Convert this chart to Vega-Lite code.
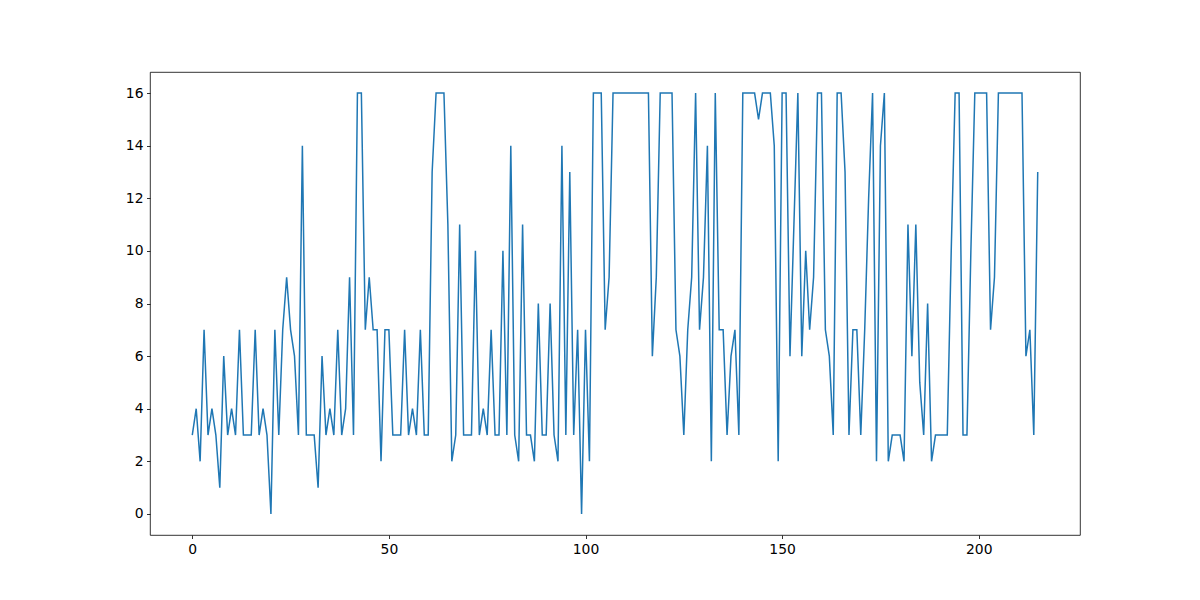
{
  "$schema": "https://vega.github.io/schema/vega-lite/v6.json",
  "width": 930,
  "height": 463,
  "autosize": {"type": "none"},
  "padding": {"left": 150, "top": 72, "right": 120, "bottom": 65},
  "background": "white",
  "config": {
    "view": {"stroke": "black", "strokeWidth": 0.8},
    "axis": {
      "domain": false,
      "grid": false,
      "tickColor": "black",
      "tickSize": 3.5,
      "tickWidth": 0.8,
      "labelFont": "DejaVu Sans",
      "labelFontSize": 13.9,
      "labelColor": "black",
      "labelPadding": 3.5,
      "title": null
    }
  },
  "data": {
    "values": [
      {"x":0,"y":3},{"x":1,"y":4},{"x":2,"y":2},{"x":3,"y":7},{"x":4,"y":3},{"x":5,"y":4},{"x":6,"y":3},{"x":7,"y":1},{"x":8,"y":6},{"x":9,"y":3},
      {"x":10,"y":4},{"x":11,"y":3},{"x":12,"y":7},{"x":13,"y":3},{"x":14,"y":3},{"x":15,"y":3},{"x":16,"y":7},{"x":17,"y":3},{"x":18,"y":4},{"x":19,"y":3},
      {"x":20,"y":0},{"x":21,"y":7},{"x":22,"y":3},{"x":23,"y":7},{"x":24,"y":9},{"x":25,"y":7},{"x":26,"y":6},{"x":27,"y":3},{"x":28,"y":14},{"x":29,"y":3},
      {"x":30,"y":3},{"x":31,"y":3},{"x":32,"y":1},{"x":33,"y":6},{"x":34,"y":3},{"x":35,"y":4},{"x":36,"y":3},{"x":37,"y":7},{"x":38,"y":3},{"x":39,"y":4},
      {"x":40,"y":9},{"x":41,"y":3},{"x":42,"y":16},{"x":43,"y":16},{"x":44,"y":7},{"x":45,"y":9},{"x":46,"y":7},{"x":47,"y":7},{"x":48,"y":2},{"x":49,"y":7},
      {"x":50,"y":7},{"x":51,"y":3},{"x":52,"y":3},{"x":53,"y":3},{"x":54,"y":7},{"x":55,"y":3},{"x":56,"y":4},{"x":57,"y":3},{"x":58,"y":7},{"x":59,"y":3},
      {"x":60,"y":3},{"x":61,"y":13},{"x":62,"y":16},{"x":63,"y":16},{"x":64,"y":16},{"x":65,"y":11},{"x":66,"y":2},{"x":67,"y":3},{"x":68,"y":11},{"x":69,"y":3},
      {"x":70,"y":3},{"x":71,"y":3},{"x":72,"y":10},{"x":73,"y":3},{"x":74,"y":4},{"x":75,"y":3},{"x":76,"y":7},{"x":77,"y":3},{"x":78,"y":3},{"x":79,"y":10},
      {"x":80,"y":3},{"x":81,"y":14},{"x":82,"y":3},{"x":83,"y":2},{"x":84,"y":11},{"x":85,"y":3},{"x":86,"y":3},{"x":87,"y":2},{"x":88,"y":8},{"x":89,"y":3},
      {"x":90,"y":3},{"x":91,"y":8},{"x":92,"y":3},{"x":93,"y":2},{"x":94,"y":14},{"x":95,"y":3},{"x":96,"y":13},{"x":97,"y":3},{"x":98,"y":7},{"x":99,"y":0},
      {"x":100,"y":7},{"x":101,"y":2},{"x":102,"y":16},{"x":103,"y":16},{"x":104,"y":16},{"x":105,"y":7},{"x":106,"y":9},{"x":107,"y":16},{"x":108,"y":16},{"x":109,"y":16},
      {"x":110,"y":16},{"x":111,"y":16},{"x":112,"y":16},{"x":113,"y":16},{"x":114,"y":16},{"x":115,"y":16},{"x":116,"y":16},{"x":117,"y":6},{"x":118,"y":9},{"x":119,"y":16},
      {"x":120,"y":16},{"x":121,"y":16},{"x":122,"y":16},{"x":123,"y":7},{"x":124,"y":6},{"x":125,"y":3},{"x":126,"y":7},{"x":127,"y":9},{"x":128,"y":16},{"x":129,"y":7},
      {"x":130,"y":9},{"x":131,"y":14},{"x":132,"y":2},{"x":133,"y":16},{"x":134,"y":7},{"x":135,"y":7},{"x":136,"y":3},{"x":137,"y":6},{"x":138,"y":7},{"x":139,"y":3},
      {"x":140,"y":16},{"x":141,"y":16},{"x":142,"y":16},{"x":143,"y":16},{"x":144,"y":15},{"x":145,"y":16},{"x":146,"y":16},{"x":147,"y":16},{"x":148,"y":14},{"x":149,"y":2},
      {"x":150,"y":16},{"x":151,"y":16},{"x":152,"y":6},{"x":153,"y":11},{"x":154,"y":16},{"x":155,"y":6},{"x":156,"y":10},{"x":157,"y":7},{"x":158,"y":9},{"x":159,"y":16},
      {"x":160,"y":16},{"x":161,"y":7},{"x":162,"y":6},{"x":163,"y":3},{"x":164,"y":16},{"x":165,"y":16},{"x":166,"y":13},{"x":167,"y":3},{"x":168,"y":7},{"x":169,"y":7},
      {"x":170,"y":3},{"x":171,"y":7},{"x":172,"y":12},{"x":173,"y":16},{"x":174,"y":2},{"x":175,"y":14},{"x":176,"y":16},{"x":177,"y":2},{"x":178,"y":3},{"x":179,"y":3},
      {"x":180,"y":3},{"x":181,"y":2},{"x":182,"y":11},{"x":183,"y":6},{"x":184,"y":11},{"x":185,"y":5},{"x":186,"y":3},{"x":187,"y":8},{"x":188,"y":2},{"x":189,"y":3},
      {"x":190,"y":3},{"x":191,"y":3},{"x":192,"y":3},{"x":193,"y":10},{"x":194,"y":16},{"x":195,"y":16},{"x":196,"y":3},{"x":197,"y":3},{"x":198,"y":10},{"x":199,"y":16},
      {"x":200,"y":16},{"x":201,"y":16},{"x":202,"y":16},{"x":203,"y":7},{"x":204,"y":9},{"x":205,"y":16},{"x":206,"y":16},{"x":207,"y":16},{"x":208,"y":16},{"x":209,"y":16},
      {"x":210,"y":16},{"x":211,"y":16},{"x":212,"y":6},{"x":213,"y":7},{"x":214,"y":3},{"x":215,"y":13}
    ]
  },
  "mark": {"type": "line", "color": "#1f77b4", "strokeWidth": 1.5, "clip": true},
  "encoding": {
    "x": {
      "field": "x",
      "type": "quantitative",
      "scale": {"domain": [-10.75, 225.75], "nice": false, "zero": false},
      "axis": {"values": [0, 50, 100, 150, 200]}
    },
    "y": {
      "field": "y",
      "type": "quantitative",
      "scale": {"domain": [-0.8, 16.8], "nice": false, "zero": false},
      "axis": {"values": [0, 2, 4, 6, 8, 10, 12, 14, 16]}
    }
  }
}
